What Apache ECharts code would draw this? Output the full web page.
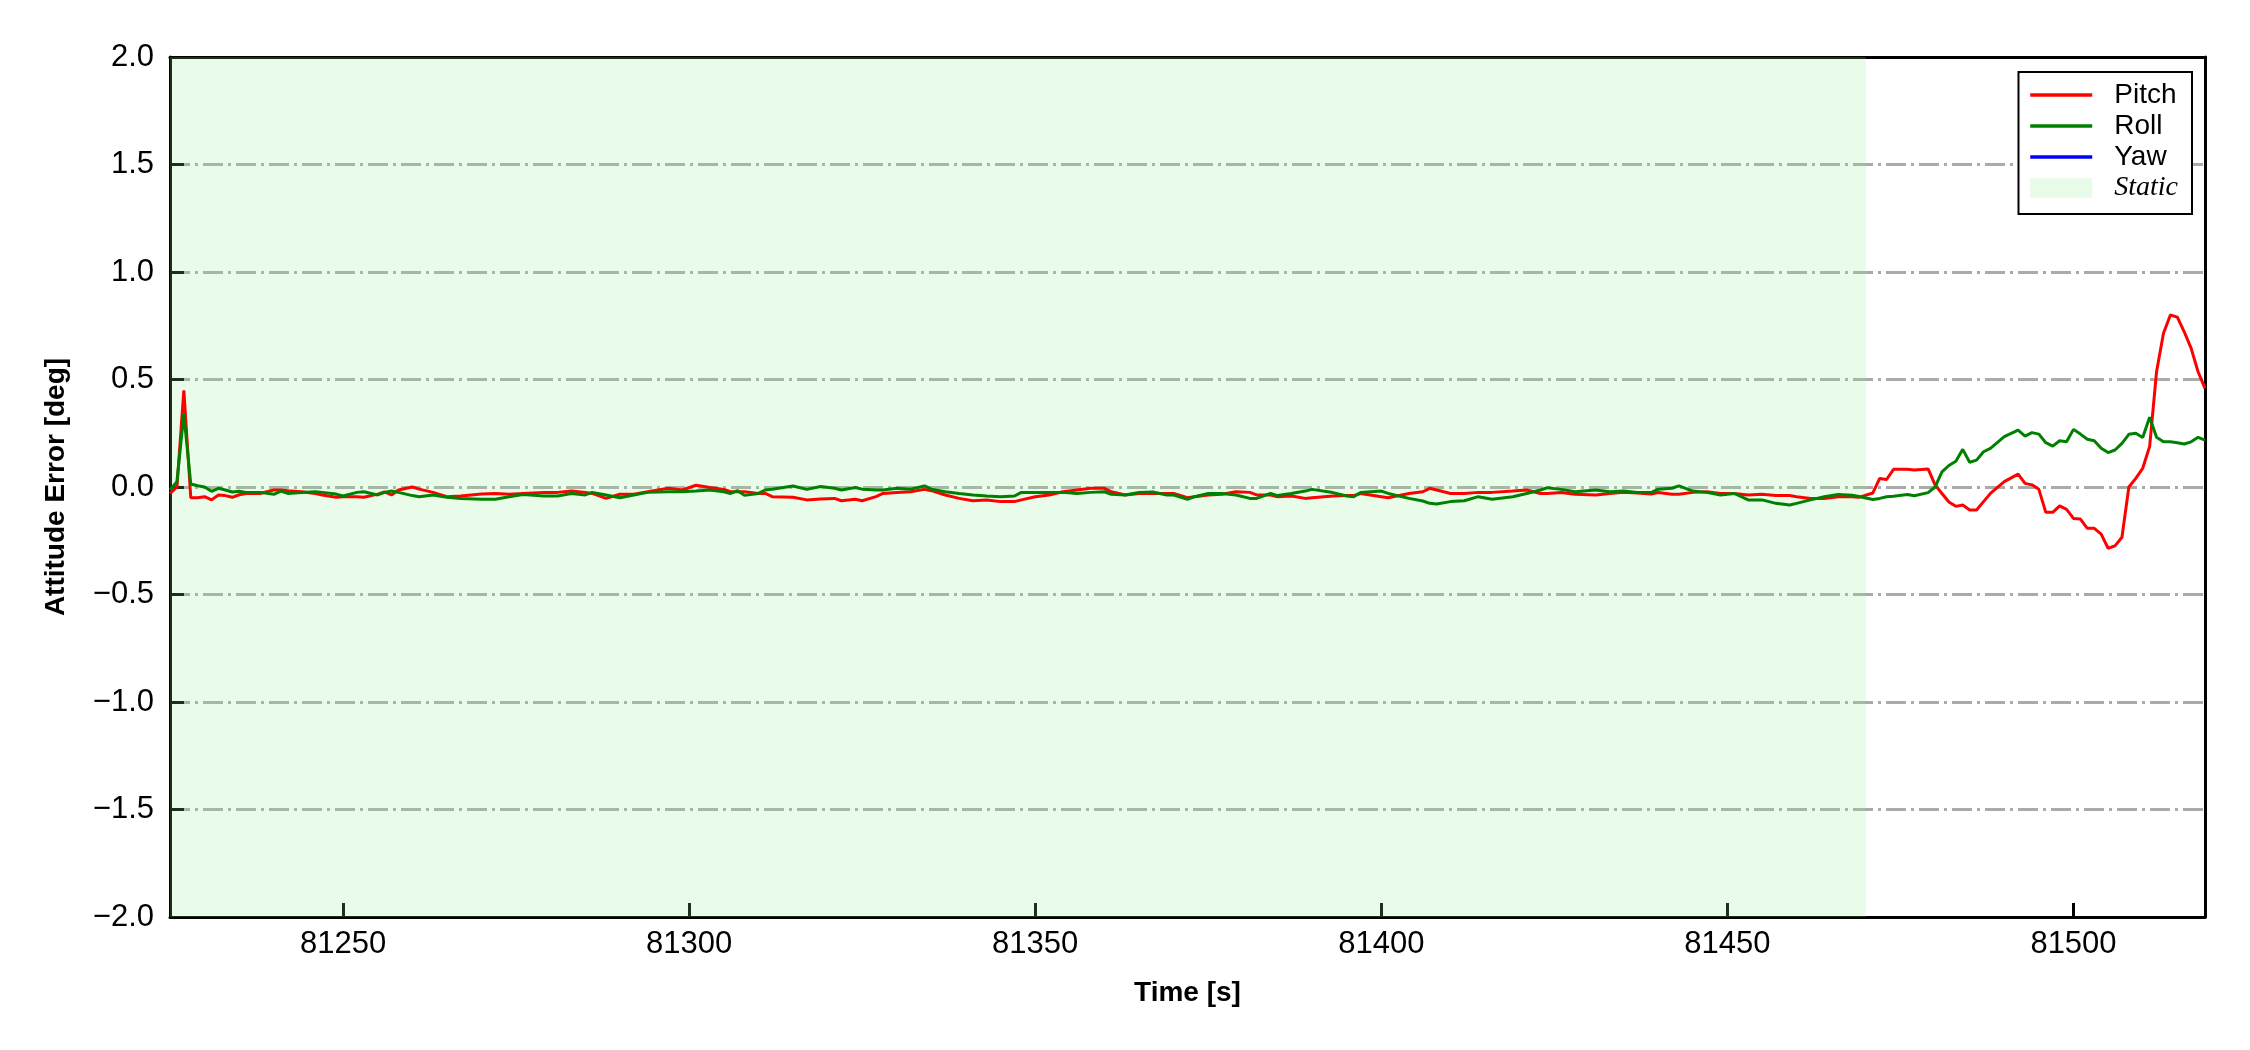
<!DOCTYPE html>
<html>
<head>
<meta charset="utf-8">
<script src="https://cdn.jsdelivr.net/npm/echarts@6/dist/echarts.min.js"></script>
<style>
html,body{margin:0;padding:0;background:#fff;}
#chart{width:2250px;height:1050px;}
</style>
</head>
<body>
<div id="chart"></div>
<script>
// ---- data ----
const timeS = [81225,81226,81227,81228,81229,81230,81231,81232,81233,81234,81235,81236,81238,81240,81241,81242,81244,81246,81247,81249,81250,81252,81253,81255,81256,81257,81258,81260,81261,81263,81265,81267,81270,81272,81274,81276,81279,81281,81283,81285,81286,81288,81290,81292,81294,81297,81299,81301,81303,81305,81306,81307,81308,81310,81311,81312,81315,81317,81319,81321,81322,81324,81325,81327,81328,81330,81332,81334,81335,81337,81339,81341,81343,81345,81347,81348,81350,81352,81354,81356,81358,81360,81361,81363,81365,81367,81369,81370,81372,81373,81375,81377,81379,81381,81382,81384,81385,81387,81389,81390,81393,81395,81396,81397,81400,81401,81404,81406,81407,81408,81410,81412,81414,81416,81419,81421,81423,81424,81426,81428,81431,81433,81435,81437,81439,81440,81442,81443,81445,81447,81449,81451,81453,81455,81457,81459,81460,81462,81464,81466,81468,81469,81471,81472,81473,81474,81476,81477,81479,81480,81481,81482,81483,81484,81485,81486,81487,81488,81490,81492,81493,81494,81495,81496,81497,81498,81499,81500,81501,81502,81503,81504,81505,81506,81507,81508,81509,81510,81511,81512,81513,81514,81515,81516,81517,81518,81519];
const pitchDeg = [-0.03,0.0,0.45,-0.05,-0.05,-0.045,-0.06,-0.037,-0.04,-0.048,-0.036,-0.03,-0.03,-0.014,-0.014,-0.017,-0.022,-0.03,-0.037,-0.048,-0.045,-0.045,-0.048,-0.033,-0.023,-0.037,-0.014,0.0,-0.01,-0.025,-0.045,-0.042,-0.033,-0.03,-0.034,-0.03,-0.025,-0.025,-0.019,-0.025,-0.03,-0.053,-0.034,-0.034,-0.022,-0.006,-0.014,0.008,-0.002,-0.011,-0.022,-0.022,-0.022,-0.03,-0.03,-0.045,-0.048,-0.06,-0.056,-0.053,-0.064,-0.057,-0.064,-0.045,-0.03,-0.026,-0.022,-0.011,-0.017,-0.037,-0.053,-0.064,-0.06,-0.068,-0.068,-0.06,-0.045,-0.037,-0.022,-0.014,-0.006,-0.006,-0.022,-0.037,-0.03,-0.03,-0.03,-0.03,-0.05,-0.045,-0.037,-0.034,-0.022,-0.025,-0.037,-0.037,-0.045,-0.042,-0.053,-0.05,-0.042,-0.04,-0.04,-0.03,-0.045,-0.05,-0.03,-0.022,-0.006,-0.014,-0.03,-0.03,-0.025,-0.025,-0.019,-0.014,-0.03,-0.03,-0.026,-0.034,-0.037,-0.03,-0.025,-0.028,-0.033,-0.026,-0.034,-0.034,-0.025,-0.022,-0.03,-0.03,-0.037,-0.034,-0.04,-0.04,-0.045,-0.053,-0.053,-0.045,-0.045,-0.048,-0.028,0.04,0.035,0.082,0.083,0.079,0.084,0.01,-0.03,-0.07,-0.09,-0.084,-0.107,-0.107,-0.068,-0.03,0.025,0.06,0.017,0.01,-0.011,-0.118,-0.118,-0.088,-0.104,-0.146,-0.149,-0.192,-0.192,-0.219,-0.285,-0.274,-0.234,0.0,0.04,0.087,0.188,0.536,0.715,0.8,0.79,0.722,0.645,0.536,0.459];
const rollDeg = [-0.014,0.025,0.34,0.014,0.006,0.0,-0.02,-0.006,-0.014,-0.023,-0.02,-0.025,-0.025,-0.034,-0.019,-0.03,-0.026,-0.022,-0.025,-0.033,-0.042,-0.025,-0.022,-0.037,-0.025,-0.019,-0.025,-0.04,-0.045,-0.037,-0.048,-0.053,-0.057,-0.057,-0.045,-0.035,-0.042,-0.042,-0.03,-0.037,-0.025,-0.037,-0.05,-0.037,-0.025,-0.022,-0.022,-0.019,-0.014,-0.022,-0.03,-0.017,-0.039,-0.03,-0.014,-0.01,0.005,-0.011,0.002,-0.006,-0.014,-0.002,-0.01,-0.014,-0.014,-0.006,-0.01,0.005,-0.01,-0.022,-0.03,-0.037,-0.042,-0.045,-0.042,-0.025,-0.025,-0.025,-0.025,-0.03,-0.025,-0.022,-0.034,-0.037,-0.026,-0.023,-0.037,-0.037,-0.057,-0.045,-0.03,-0.03,-0.037,-0.053,-0.053,-0.03,-0.04,-0.03,-0.019,-0.011,-0.026,-0.042,-0.045,-0.026,-0.019,-0.03,-0.053,-0.065,-0.076,-0.079,-0.068,-0.064,-0.045,-0.057,-0.045,-0.03,-0.014,-0.003,-0.011,-0.022,-0.014,-0.022,-0.019,-0.025,-0.026,-0.01,-0.006,0.005,-0.019,-0.025,-0.037,-0.03,-0.06,-0.06,-0.076,-0.084,-0.076,-0.06,-0.045,-0.035,-0.038,-0.044,-0.058,-0.053,-0.045,-0.043,-0.035,-0.041,-0.026,0.0,0.07,0.1,0.12,0.175,0.115,0.125,0.164,0.18,0.234,0.265,0.237,0.253,0.246,0.206,0.19,0.215,0.21,0.268,0.246,0.222,0.215,0.18,0.16,0.172,0.203,0.245,0.25,0.23,0.324,0.231,0.21,0.21,0.206,0.2,0.21,0.231,0.218];
const yawDeg = [];            // Yaw: no trace visible in the reference
const staticSpan = [81225, 81470];
const xTicks = [81250, 81300, 81350, 81400, 81450, 81500];
const xRange = [81225, 81519];
const yRange = [-2, 2];
const yStep = 0.5;

// ---- chart ----
const FONT = "'Liberation Sans', Arial, sans-serif";
const pair = (vals) => vals.map((v, i) => [timeS[i], v]);
const chart = echarts.init(document.getElementById('chart'), null, {renderer: 'canvas'});
const gridStyle = {color: '#aaaaaa', width: 3, type: [20, 5, 3, 5]};
const spine = {show: true, onZero: false, lineStyle: {color: '#000', width: 3}};
const STATIC_FILL = 'rgba(144,238,144,0.2)';

chart.setOption({
  animation: false,
  backgroundColor: '#ffffff',
  grid: {left: 170, top: 57, right: 45, bottom: 133, containLabel: false},
  xAxis: [{
    type: 'value', min: xRange[0], max: xRange[1], position: 'bottom',
    axisLine: spine,
    axisTick: {show: true, inside: true, length: 14, customValues: xTicks, lineStyle: {color: '#000', width: 3}},
    axisLabel: {customValues: xTicks, color: '#000', fontSize: 31, fontFamily: FONT, margin: 12,
      formatter: v => String(v)},
    splitLine: {show: false},
    name: 'Time [s]', nameLocation: 'middle', nameGap: 62,
    nameTextStyle: {color: '#000', fontWeight: 'bold', fontSize: 28, fontFamily: FONT}
  }, {
    type: 'value', min: xRange[0], max: xRange[1], position: 'top',
    axisLine: spine, axisTick: {show: false}, axisLabel: {show: false}, splitLine: {show: false}
  }],
  yAxis: [{
    type: 'value', min: yRange[0], max: yRange[1], interval: yStep, position: 'left',
    axisLine: spine,
    axisTick: {show: true, inside: true, length: 14, lineStyle: {color: '#000', width: 3}},
    axisLabel: {color: '#000', fontSize: 31, fontFamily: FONT, margin: 16,
      formatter: v => (v < 0 ? '\u2212' : '') + Math.abs(v).toFixed(1)},
    splitLine: {show: true, showMinLine: false, showMaxLine: false, lineStyle: gridStyle},
    name: 'Attitude Error [deg]', nameLocation: 'middle', nameGap: 100, nameRotate: 90,
    nameTextStyle: {color: '#000', fontWeight: 'bold', fontSize: 28, fontFamily: FONT}
  }, {
    type: 'value', min: yRange[0], max: yRange[1], interval: yStep, position: 'right',
    axisLine: spine, axisTick: {show: false}, axisLabel: {show: false}, splitLine: {show: false}
  }],
  legend: {
    orient: 'vertical', right: 58, top: 72, align: 'left',
    backgroundColor: '#fff', borderColor: '#000', borderWidth: 2, borderRadius: 0,
    padding: [9, 14, 12, 10], itemWidth: 62, itemHeight: 20, itemGap: 3,
    textStyle: {color: '#000', fontSize: 28, fontFamily: FONT, lineHeight: 28, padding: [0, 0, 0, 17]},
    data: [
      {name: 'Pitch', itemStyle: {opacity: 0}, lineStyle: {color: '#ff0000', width: 3.5}},
      {name: 'Roll', itemStyle: {opacity: 0}, lineStyle: {color: '#008000', width: 3.5}},
      {name: 'Yaw', itemStyle: {opacity: 0}, lineStyle: {color: '#0000ff', width: 3.5}},
      {name: 'Static', icon: 'rect', itemStyle: {color: STATIC_FILL},
       textStyle: {fontFamily: "'Liberation Serif', 'Times New Roman', serif", fontStyle: 'italic', fontSize: 28}}
    ]
  },
  series: [
    {
      name: 'Static', type: 'line', data: [], symbol: 'none', z: 1,
      itemStyle: {color: STATIC_FILL},
      markArea: {silent: true, itemStyle: {color: STATIC_FILL},
        data: [[{xAxis: staticSpan[0]}, {xAxis: staticSpan[1]}]]}
    },
    {name: 'Pitch', type: 'line', data: pair(pitchDeg), symbol: 'none', z: 3,
     lineStyle: {color: '#ff0000', width: 3}, itemStyle: {color: '#ff0000'}},
    {name: 'Roll', type: 'line', data: pair(rollDeg), symbol: 'none', z: 4,
     lineStyle: {color: '#008000', width: 3}, itemStyle: {color: '#008000'}},
    {name: 'Yaw', type: 'line', data: pair(yawDeg), symbol: 'none', z: 5,
     lineStyle: {color: '#0000ff', width: 3}, itemStyle: {color: '#0000ff'}}
  ]
});
</script>
</body>
</html>
